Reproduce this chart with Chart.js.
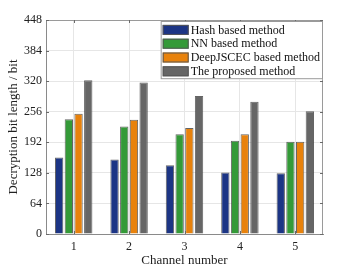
<!DOCTYPE html>
<html>
<head>
<meta charset="utf-8">
<script src="https://cdn.jsdelivr.net/npm/chart.js@4.4.1/dist/chart.umd.min.js"></script>
<style>
  html, body { margin: 0; padding: 0; background: #ffffff; }
  #wrap { width: 357px; height: 268px; }
</style>
</head>
<body>
<div id="wrap"><canvas id="chart" width="357" height="268"></canvas></div>
<script>
const channels = ["1", "2", "3", "4", "5"];
const hashValues = [160, 156, 144, 129, 127];
const nnValues = [240, 225, 209, 195, 193];
const deepJscecValues = [252, 239, 222, 209, 193];
const proposedValues = [322, 317, 289, 277, 257];
const yTicks = [0, 64, 128, 192, 256, 320, 384, 448];

const FONT = "'Liberation Serif', 'Times New Roman', serif";

// === Legend box drawn inside the plot, top right ===
const boxLegend = {
    id: "boxLegend",
    afterDraw(chart) {
        const ctx = chart.ctx;
        const area = chart.chartArea;
        const sets = chart.data.datasets;
        ctx.save();
        ctx.font = "12px " + FONT;
        let maxW = 0;
        sets.forEach((ds) => { maxW = Math.max(maxW, ctx.measureText(ds.label).width); });
        const rowH = 13.8;
        const w = 2 + 26 + 2 + maxW + 3;
        const h = rowH * sets.length + 3;
        const x0 = area.right - w;
        const y0 = area.top + 1;
        ctx.fillStyle = "#ffffff";
        ctx.fillRect(x0, y0, w, h);
        ctx.strokeStyle = "#9a9a9a";
        ctx.lineWidth = 1;
        ctx.strokeRect(x0 + 0.5, y0 + 0.5, w - 1, h - 1);
        sets.forEach((ds, i) => {
            const cy = y0 + 2 + rowH * i + rowH / 2;
            ctx.fillStyle = ds.backgroundColor;
            ctx.fillRect(x0 + 2, cy - 5, 26, 10);
            ctx.strokeStyle = "#555555";
            ctx.strokeRect(x0 + 2.5, cy - 4.5, 25, 9);
            ctx.fillStyle = "#111111";
            ctx.textBaseline = "middle";
            ctx.fillText(ds.label, x0 + 30, cy + 0.5);
        });
        ctx.restore();
    },
};

// === Top/right frame and inner tick marks ===
const frame = {
    id: "frame",
    afterDatasetsDraw(chart) {
        const ctx = chart.ctx;
        const a = chart.chartArea;
        const yScale = chart.scales.y;
        const xScale = chart.scales.x;
        ctx.save();
        ctx.strokeStyle = "#9a9a9a";
        ctx.lineWidth = 1;
        ctx.beginPath();
        ctx.moveTo(a.left, a.top + 0.5);
        ctx.lineTo(a.right - 0.5, a.top + 0.5);
        ctx.lineTo(a.right - 0.5, a.bottom);
        ctx.stroke();
        ctx.strokeStyle = "#6a6a6a";
        ctx.beginPath();
        yTicks.forEach((v) => {
            const y = Math.round(yScale.getPixelForValue(v)) + 0.5;
            ctx.moveTo(a.left, y);
            ctx.lineTo(a.left + 3, y);
            ctx.moveTo(a.right, y);
            ctx.lineTo(a.right - 3, y);
        });
        channels.forEach((c, i) => {
            const x = Math.round(xScale.getPixelForValue(i)) + 0.5;
            ctx.moveTo(x, a.bottom);
            ctx.lineTo(x, a.bottom - 3);
            ctx.moveTo(x, a.top);
            ctx.lineTo(x, a.top + 3);
        });
        ctx.stroke();
        ctx.restore();
    },
};

const makeSet = (label, data, color) => ({
    label: label,
    data: data,
    backgroundColor: color,
    borderColor: "rgba(50, 50, 50, 0.75)",
    borderWidth: 1,
    categoryPercentage: 0.7,
    barPercentage: 0.86,
});

const ctx = document.getElementById("chart").getContext("2d");
new Chart(ctx, {
    type: "bar",
    data: {
        labels: channels,
        datasets: [
            makeSet("Hash based method", hashValues, "#1c3585"),
            makeSet("NN based method", nnValues, "#349a38"),
            makeSet("DeepJSCEC based method", deepJscecValues, "#e8820c"),
            makeSet("The proposed method", proposedValues, "#666666"),
        ],
    },
    options: {
        responsive: false,
        animation: false,
        devicePixelRatio: 1,
        layout: { padding: { top: 20, right: 34, left: 0, bottom: 0 } },
        plugins: {
            legend: { display: false },
            tooltip: { enabled: false },
        },
        scales: {
            x: {
                offset: true,
                grid: { offset: false, color: "#e6e6e6", drawTicks: false },
                border: { color: "#8a8a8a" },
                ticks: { color: "#222222", font: { family: FONT, size: 12 }, padding: 6 },
                title: { display: true, text: "Channel number", color: "#222222", font: { family: FONT, size: 13 }, padding: { top: 0, bottom: 0 } },
                afterFit(scale) { scale.height = 34; },
            },
            y: {
                min: 0,
                max: 448,
                afterBuildTicks(scale) { scale.ticks = yTicks.map((v) => ({ value: v })); },
                grid: { color: "#e6e6e6", drawTicks: false },
                border: { color: "#8a8a8a" },
                ticks: { color: "#222222", font: { family: FONT, size: 12 }, padding: 4 },
                title: { display: true, text: "Decryption bit length / bit", color: "#222222", font: { family: FONT, size: 13 }, padding: { top: 6, bottom: 2 } },
                afterFit(scale) { scale.width = 46; },
            },
        },
    },
    plugins: [boxLegend, frame],
});
</script>
</body>
</html>
